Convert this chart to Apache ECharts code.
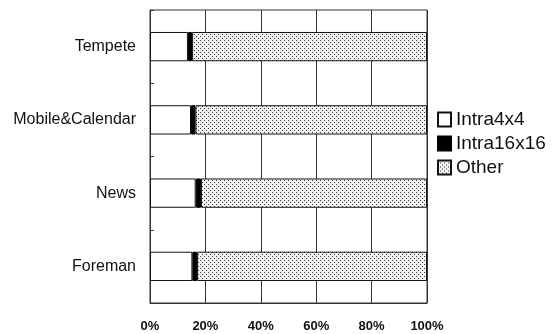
<!DOCTYPE html>
<html>
<head>
<meta charset="utf-8">
<script src="https://cdn.jsdelivr.net/npm/echarts@6/dist/echarts.min.js"></script>
<style>html,body{margin:0;padding:0;background:#fff}#c{width:556px;height:334px}</style>
</head>
<body>
<div id="c"></div>
<script>
const categories = ['Tempete', 'Mobile&Calendar', 'News', 'Foreman'];
const seriesNames = ['Intra4x4', 'Intra16x16', 'Other'];
const intra4x4 = [13.7, 14.8, 16.5, 15.3];
const intra16x16 = [1.5, 1.6, 1.9, 1.7];
const other = [84.8, 83.6, 81.6, 83.0];
const xTicks = [0, 20, 40, 60, 80, 100];

function makePattern() {
  const c = document.createElement('canvas');
  c.width = 4; c.height = 4;
  const g = c.getContext('2d');
  g.fillStyle = '#f2f2f2';
  g.fillRect(0, 0, 4, 4);
  g.fillStyle = '#333';
  g.fillRect(0, 0, 1, 1);
  g.fillRect(2, 2, 1, 1);
  return c;
}
const pattern = { image: makePattern(), repeat: 'repeat' };

const chart = echarts.init(document.getElementById('c'), null, { renderer: 'canvas' });
const font = 'Liberation Sans, Arial, sans-serif';
const common = { type: 'bar', stack: 'total', barCategoryGap: '60%' };
chart.setOption({
  animation: false,
  textStyle: { fontFamily: font },
  grid: { left: 150, right: 129, top: 10, bottom: 31, show: true, borderColor: '#333', borderWidth: 1 },
  legend: {
    orient: 'vertical', left: 432, top: 105,
    icon: 'rect',
    itemWidth: 13, itemHeight: 14, itemGap: 5,
    textStyle: { fontSize: 19, color: '#111', fontFamily: font },
    data: seriesNames
  },
  xAxis: {
    type: 'value', min: xTicks[0], max: xTicks[xTicks.length - 1], interval: 20,
    axisLine: { show: true, lineStyle: { color: '#333' } },
    axisTick: { show: false },
    splitLine: { show: true, lineStyle: { color: '#333', width: 1 } },
    axisLabel: { formatter: '{value}%', fontSize: 13, fontWeight: 'bold', color: '#111', margin: 17 }
  },
  yAxis: {
    type: 'category', data: categories, inverse: true,
    axisLine: { show: true, lineStyle: { color: '#333' } },
    axisTick: { show: true, inside: true, length: 4, lineStyle: { color: '#333' } },
    axisLabel: { fontSize: 16, color: '#111', margin: 14 }
  },
  series: [
    Object.assign({ name: seriesNames[0], data: intra4x4,
      itemStyle: { color: '#fff', borderColor: '#111', borderWidth: 1 } }, common),
    Object.assign({ name: seriesNames[1], data: intra16x16,
      itemStyle: { color: '#000', borderColor: '#000', borderWidth: 1 } }, common),
    Object.assign({ name: seriesNames[2], data: other,
      itemStyle: { color: pattern, borderColor: '#111', borderWidth: 1 } }, common)
  ]
});
</script>
</body>
</html>
